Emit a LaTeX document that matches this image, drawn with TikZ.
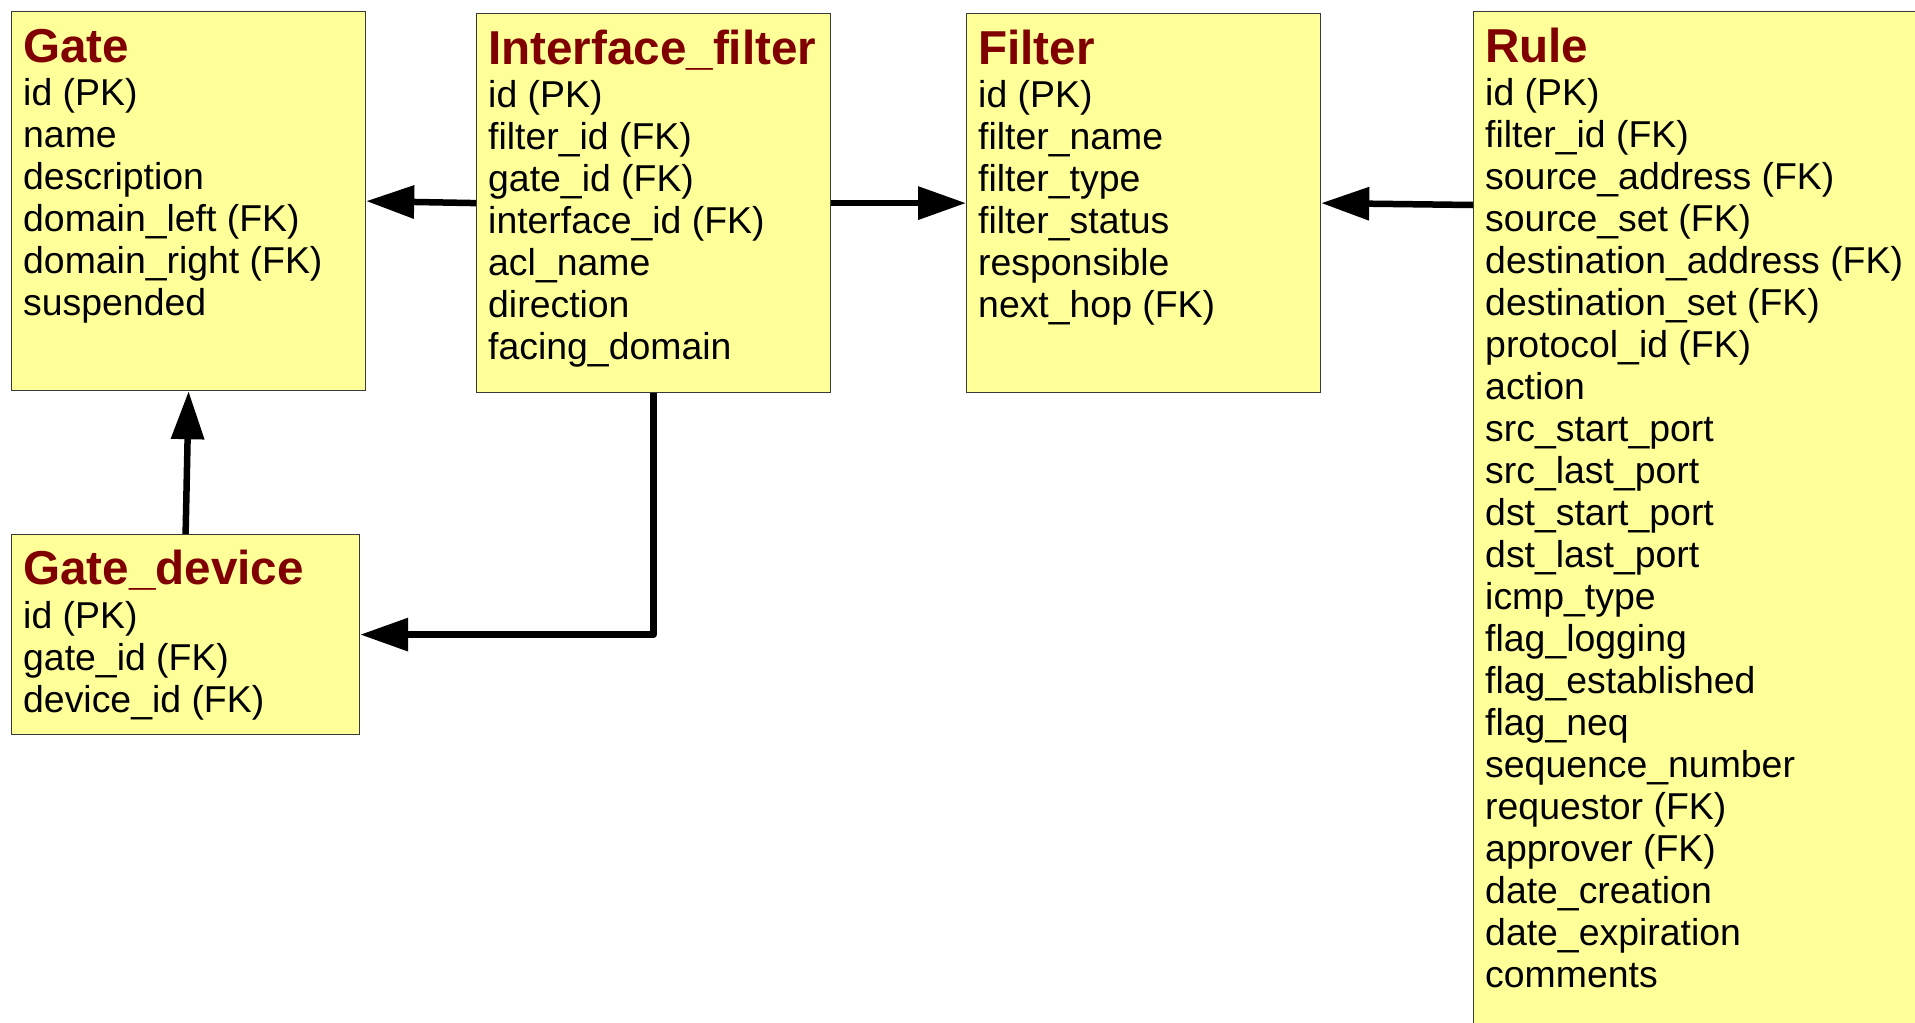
\documentclass[tikz,border=0pt]{standalone}
\usepackage{fontspec}
\setmainfont{Liberation Sans}
\usetikzlibrary{arrows.meta}
\definecolor{tblfill}{HTML}{FFFF99}
\definecolor{tbledge}{HTML}{3A3A3A}
\definecolor{tbltitle}{HTML}{800000}
\begin{document}
\begin{tikzpicture}[x=1pt,y=-1pt,
  tbl/.style={draw=tbledge, line width=1.2pt, fill=tblfill, rectangle,
              inner sep=0pt, anchor=north west},
  ttl/.style={anchor=base west, inner sep=0pt, text=tbltitle,
              font=\fontsize{47.6}{50}\selectfont\bfseries},
  fld/.style={anchor=base west, inner sep=0pt,
              font=\fontsize{37.4}{42}\selectfont},
  conn/.style={line width=6.5pt, line join=round,
               -{Triangle[length=48pt,width=32pt]}}]
\useasboundingbox (0,0) rectangle (1915,1023);

% tables
\node[tbl, minimum width=354pt, minimum height=379pt] (gate)   at (11,11)   {};
\node[tbl, minimum width=354pt, minimum height=379pt] (iface)  at (476,13)  {};
\node[tbl, minimum width=354pt, minimum height=379pt] (filter) at (966,13)  {};
\node[tbl, minimum width=460pt, minimum height=1030pt] (rule)  at (1473,11) {};
\node[tbl, minimum width=348pt, minimum height=200pt] (gdev)   at (11,534)  {};

% Gate
\node[ttl] (gate-t) at (23,62) {Gate};
\foreach \fname [count=\i] in {id (PK), name, description,
    domain\_left (FK), domain\_right (FK), suspended}
  \node[fld] (gate-f\i) at (23,{63+42*\i}) {\fname};

% Interface_filter
\node[ttl] (iface-t) at (488,64) {Interface\_filter};
\foreach \fname [count=\i] in {id (PK), filter\_id (FK), gate\_id (FK),
    interface\_id (FK), acl\_name, direction, facing\_domain}
  \node[fld] (iface-f\i) at (488,{65+42*\i}) {\fname};

% Filter
\node[ttl] (filter-t) at (978,64) {Filter};
\foreach \fname [count=\i] in {id (PK), filter\_name, filter\_type,
    filter\_status, responsible, next\_hop (FK)}
  \node[fld] (filter-f\i) at (978,{65+42*\i}) {\fname};

% Rule
\node[ttl] (rule-t) at (1485,62) {Rule};
\foreach \fname [count=\i] in {id (PK), filter\_id (FK), source\_address (FK),
    source\_set (FK), destination\_address (FK), destination\_set (FK),
    protocol\_id (FK), action, src\_start\_port, src\_last\_port,
    dst\_start\_port, dst\_last\_port, icmp\_type, flag\_logging,
    flag\_established, flag\_neq, sequence\_number, requestor (FK),
    approver (FK), date\_creation, date\_expiration, comments}
  \node[fld] (rule-f\i) at (1485,{63+42*\i}) {\fname};

% Gate_device
\node[ttl] (gdev-t) at (23,584) {Gate\_device};
\foreach \fname [count=\i] in {id (PK), gate\_id (FK), device\_id (FK)}
  \node[fld] (gdev-f\i) at (23,{586+42*\i}) {\fname};

% references
\draw[conn] (iface.west) -- (gate.east);
\draw[conn] (iface.east) -- (filter.west);
\draw[conn] ([yshift=-194pt]rule.north west) -- (filter.east);
\draw[conn] (gdev.north) -- (gate.south);
\draw[conn] (iface.south) |- (gdev.east);
\end{tikzpicture}
\end{document}
